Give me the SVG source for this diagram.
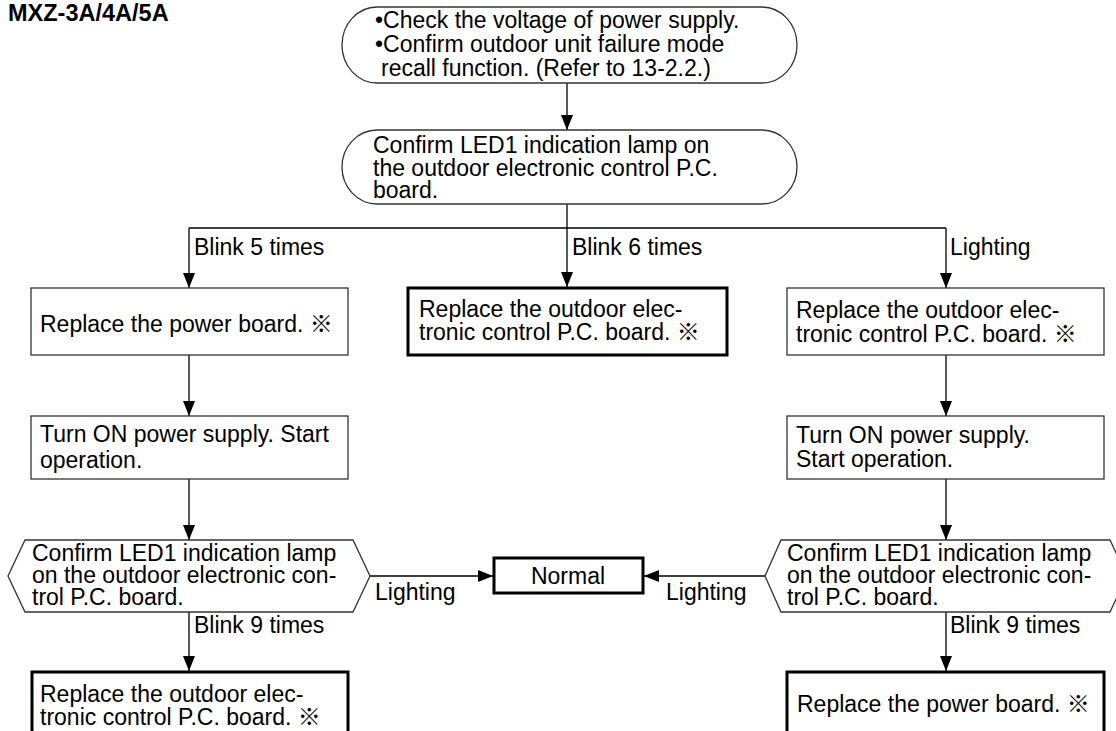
<svg xmlns="http://www.w3.org/2000/svg" width="1116" height="731" viewBox="0 0 1116 731">
<defs>
<marker id="ah" markerUnits="userSpaceOnUse" markerWidth="16" markerHeight="12" refX="15" refY="6" orient="auto">
<path d="M0,0 L15,6 L0,12 Z" fill="#000"/>
</marker>
<style>
text{font-family:"Liberation Sans","Noto Sans CJK JP",Arial,sans-serif;font-size:23px;fill:#000}
.title{font-weight:bold;font-size:23.5px}
.thin{fill:#fff;stroke:#333;stroke-width:1.3}
.thick{fill:#fff;stroke:#000;stroke-width:3}
.ln{fill:none;stroke:#000;stroke-width:1.3}
.arr{fill:none;stroke:#000;stroke-width:1.3;marker-end:url(#ah)}
</style>
</defs>
<rect width="1116" height="731" fill="#fff"/>
<text class="title" x="8" y="21">MXZ-3A/4A/5A</text>

<g id="connectors">
<line class="arr" x1="567" y1="83" x2="567" y2="130"/>
<line class="ln" x1="567" y1="204" x2="567" y2="228"/>
<line class="ln" x1="189" y1="228" x2="946" y2="228"/>
<line class="arr" x1="189" y1="228" x2="189" y2="288"/>
<line class="arr" x1="567" y1="228" x2="567" y2="287"/>
<line class="arr" x1="946" y1="228" x2="946" y2="288"/>
<line class="arr" x1="189" y1="355" x2="189" y2="416"/>
<line class="arr" x1="946" y1="355" x2="946" y2="416"/>
<line class="arr" x1="189" y1="479" x2="189" y2="540"/>
<line class="arr" x1="946" y1="479" x2="946" y2="540"/>
<line class="arr" x1="370" y1="576" x2="493" y2="576"/>
<line class="arr" x1="765" y1="576" x2="644" y2="576"/>
<line class="arr" x1="189" y1="612" x2="189" y2="671"/>
<line class="arr" x1="946" y1="612" x2="946" y2="671"/>
<text x="194" y="255">Blink 5 times</text>
<text x="572" y="255">Blink 6 times</text>
<text x="950" y="255">Lighting</text>
<text x="375" y="600">Lighting</text>
<text x="666" y="600">Lighting</text>
<text x="194" y="633">Blink 9 times</text>
<text x="950" y="633">Blink 9 times</text>
</g>

<g id="start">
<rect class="thin" x="342" y="7" width="455" height="76" rx="35" ry="38"/>
<text x="375" y="28">•Check the voltage of power supply.</text>
<text x="375" y="52">•Confirm outdoor unit failure mode</text>
<text x="381" y="76">recall function. (Refer to 13-2.2.)</text>
</g>

<g id="confirm-led1">
<rect class="thin" x="342" y="130" width="455" height="74" rx="35" ry="37"/>
<text x="373" y="153">Confirm LED1 indication lamp on</text>
<text x="373" y="176">the outdoor electronic control P.C.</text>
<text x="373" y="198">board.</text>
</g>

<g id="left-replace-power">
<rect class="thin" x="31" y="288" width="317" height="67"/>
<text x="40" y="332">Replace the power board. ※</text>
</g>

<g id="mid-replace-pcb">
<rect class="thick" x="408" y="288" width="319" height="67"/>
<text x="419" y="317">Replace the outdoor elec-</text>
<text x="419" y="340">tronic control P.C. board. ※</text>
</g>

<g id="right-replace-pcb">
<rect class="thin" x="787" y="288" width="317" height="67"/>
<text x="796" y="318">Replace the outdoor elec-</text>
<text x="796" y="342">tronic control P.C. board. ※</text>
</g>

<g id="left-turn-on">
<rect class="thin" x="31" y="416" width="317" height="63"/>
<text x="40" y="442">Turn ON power supply. Start</text>
<text x="40" y="468">operation.</text>
</g>

<g id="right-turn-on">
<rect class="thin" x="787" y="416" width="317" height="63"/>
<text x="796" y="443">Turn ON power supply.</text>
<text x="796" y="467">Start operation.</text>
</g>

<g id="left-confirm">
<polygon class="thin" points="8,576 25,540 353,540 370,576 353,612 25,612"/>
<text x="32" y="561">Confirm LED1 indication lamp</text>
<text x="32" y="583">on the outdoor electronic con-</text>
<text x="32" y="605">trol P.C. board.</text>
</g>

<g id="right-confirm">
<polygon class="thin" points="765,576 781,540 1110,540 1127,576 1110,612 781,612"/>
<text x="787" y="561">Confirm LED1 indication lamp</text>
<text x="787" y="583">on the outdoor electronic con-</text>
<text x="787" y="605">trol P.C. board.</text>
</g>

<g id="normal">
<rect class="thick" x="494" y="558" width="149" height="35"/>
<text x="568" y="584" text-anchor="middle">Normal</text>
</g>

<g id="left-bottom">
<rect class="thick" x="32" y="672" width="316" height="80"/>
<text x="40" y="702">Replace the outdoor elec-</text>
<text x="40" y="725">tronic control P.C. board. ※</text>
</g>

<g id="right-bottom">
<rect class="thick" x="787" y="672" width="317" height="80"/>
<text x="797" y="712">Replace the power board. ※</text>
</g>
</svg>
